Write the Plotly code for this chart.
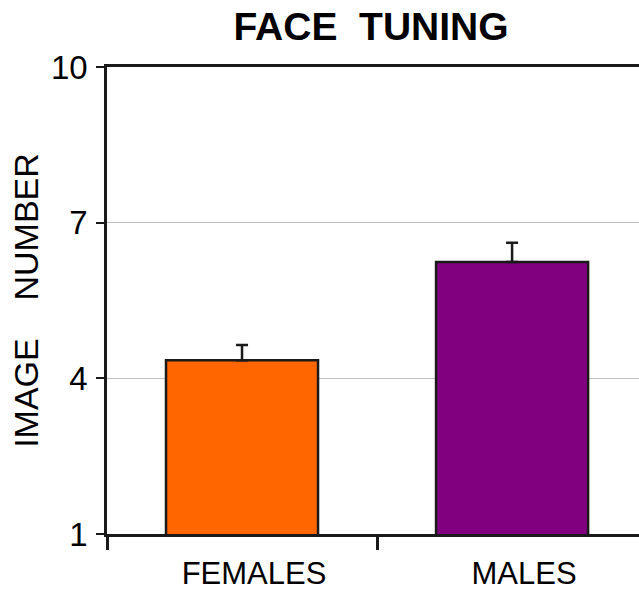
import plotly.graph_objects as go

categories = ["FEMALES", "MALES"]
values = [4.35, 6.24]
errors_up = [0.29, 0.375]
colors = ["#ff6600", "#800080"]
y_ticks = [1, 4, 7, 10]

fig = go.Figure()
fig.add_trace(go.Bar(
    x=categories, y=values,
    marker=dict(color=colors, line=dict(color="#1a1a1a", width=2.5)),
    width=0.563,
    error_y=dict(type="data", symmetric=False, array=errors_up, arrayminus=[0, 0],
                 color="#1a1a1a", thickness=2.5, width=6),
))

fig.update_layout(
    width=639, height=592,
    margin=dict(l=107, r=0, t=67, b=58, autoexpand=False),
    paper_bgcolor="white", plot_bgcolor="white",
    font=dict(family="Liberation Sans, Arial, sans-serif", color="black"),
    title=dict(text="<b>FACE\u00a0\u00a0TUNING</b>", x=371/639, xanchor="center",
               y=1 - 26/592, yanchor="middle", font=dict(size=39), automargin=False),
    showlegend=False,
)
fig.update_xaxes(
    range=[-0.5, 1.47], automargin=False,
    showline=True, linecolor="#1a1a1a", linewidth=2.5, mirror=True,
    ticks="outside", tickson="boundaries", ticklen=13, tickwidth=2.5, tickcolor="#1a1a1a",
    tickfont=dict(size=31), ticklabelshift=12, ticklabelstandoff=10,
    showgrid=False,
)
fig.update_yaxes(
    range=[1, 10], tickvals=y_ticks, automargin=False,
    showline=True, linecolor="#1a1a1a", linewidth=2.5,
    ticks="outside", ticklen=8, tickwidth=2, tickcolor="#1a1a1a",
    tickfont=dict(size=33), ticklabelstandoff=2,
    showgrid=True, gridcolor="#c0c0c0", gridwidth=1,
    zeroline=False,
    title=dict(text="IMAGE\u00a0\u00a0\u00a0\u00a0NUMBER", font=dict(size=34), standoff=3),
)

fig.write_html("out.html", config={"displayModeBar": False},
               post_script="document.body.style.margin='0';")
